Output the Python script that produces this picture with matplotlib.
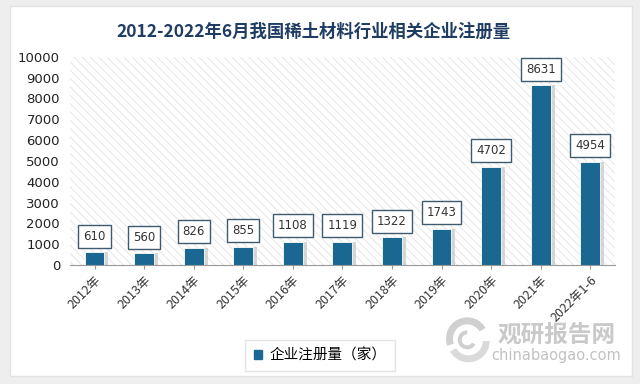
import matplotlib.pyplot as plt
from matplotlib.patches import Rectangle, FancyBboxPatch, Wedge

plt.rcParams['font.family'] = ['Noto Sans CJK SC', 'DejaVu Sans']
plt.rcParams['hatch.linewidth'] = 0.7

years = ['2012年', '2013年', '2014年', '2015年', '2016年', '2017年',
         '2018年', '2019年', '2020年', '2021年', '2022年1-6']
counts = [610, 560, 826, 855, 1108, 1119, 1322, 1743, 4702, 8631, 4954]
yticks = [0, 1000, 2000, 3000, 4000, 5000, 6000, 7000, 8000, 9000, 10000]

bar_color = '#1a6791'

fig = plt.figure(figsize=(6.4, 3.84), dpi=100)
fig.patch.set_facecolor('#eeeeee')
card = FancyBboxPatch((0.015, 0.02), 0.972, 0.965, boxstyle='square,pad=0',
                      transform=fig.transFigure, facecolor='white',
                      edgecolor='#e2e2e2', linewidth=1, zorder=-10)
fig.patches.append(card)

# watermark logo (drawn first so chart text sits over it)
lax = fig.add_axes([0.69, 0.05, 0.08, 0.13], zorder=-5)
lax.set_xlim(-1, 1)
lax.set_ylim(-1, 1)
lax.set_aspect('equal')
lax.axis('off')
lax.add_patch(Wedge((0, 0.05), 0.85, 30, 200, width=0.28, facecolor='#d0d0d0', edgecolor='none'))
lax.add_patch(Wedge((0.05, -0.05), 0.85, 210, 360, width=0.28, facecolor='#dadada', edgecolor='none'))
lax.add_patch(Wedge((0.0, 0.0), 0.38, 90, 330, width=0.16, facecolor='#cfcfcf', edgecolor='none'))

fig.text(0.869, 0.128, '观研报告网', ha='center', va='center', fontsize=17,
         fontweight='bold', color='#c9c9c9', zorder=-4)
fig.text(0.869, 0.074, 'chinabaogao.com', ha='center', va='center', fontsize=10.5,
         color='#c2c2c2', family='DejaVu Sans', zorder=-4)

ax = fig.add_axes([0.109, 0.31, 0.852, 0.542])
ax.set_facecolor('none')
# hatched background
ax.add_patch(Rectangle((0, 0), 1, 1, transform=ax.transAxes, facecolor='white',
                       edgecolor='#e6e6e6', hatch='\\\\\\\\', linewidth=0, zorder=0))

x = list(range(len(years)))
# shadow
ax.bar([i + 0.07 for i in x], counts, width=0.42, color='#bdbdbd', alpha=0.6,
       zorder=1, linewidth=0)
ax.bar(x, counts, width=0.4, color=bar_color, edgecolor='white', linewidth=0.6, zorder=2)

for i, v in zip(x, counts):
    ax.annotate(str(v), (i, v), xytext=(0, 7), textcoords='offset points',
                ha='center', va='bottom', fontsize=8.5, color='#333333', family='DejaVu Sans',
                bbox=dict(boxstyle='square,pad=0.42', facecolor='white',
                          edgecolor='#3d5a6e', linewidth=1), zorder=3)

ax.set_xlim(-0.5, 10.5)
ax.set_ylim(0, 10000)
ax.set_yticks(yticks)
ax.set_yticklabels([str(t) for t in yticks], fontsize=9.5, color='#222222', family='DejaVu Sans')
ax.set_xticks(x)
ax.set_xticklabels(years, rotation=45, ha='right', rotation_mode='anchor',
                   fontsize=9, color='#333333')
ax.tick_params(axis='y', length=0, pad=7)
ax.tick_params(axis='x', length=3, color='#999999')
for s in ['top', 'right', 'left']:
    ax.spines[s].set_visible(False)
ax.spines['bottom'].set_color('#999999')

fig.text(0.49, 0.918, '2012-2022年6月我国稀土材料行业相关企业注册量', ha='center', va='center',
         fontsize=12.5, fontweight='bold', color='#1f3c63')

# legend
leg = ax.legend([Rectangle((0, 0), 1, 1, color=bar_color)], ['企业注册量（家）'],
                loc='center', bbox_to_anchor=(0.5, 0.074), bbox_transform=fig.transFigure,
                frameon=True, fancybox=False, fontsize=10.5, handlelength=0.55,
                handleheight=0.55, borderpad=0.6, handletextpad=0.5, borderaxespad=0)
leg.get_frame().set_edgecolor('#dddddd')
leg.get_frame().set_linewidth(1)

fig.savefig('out.png', dpi=100)
